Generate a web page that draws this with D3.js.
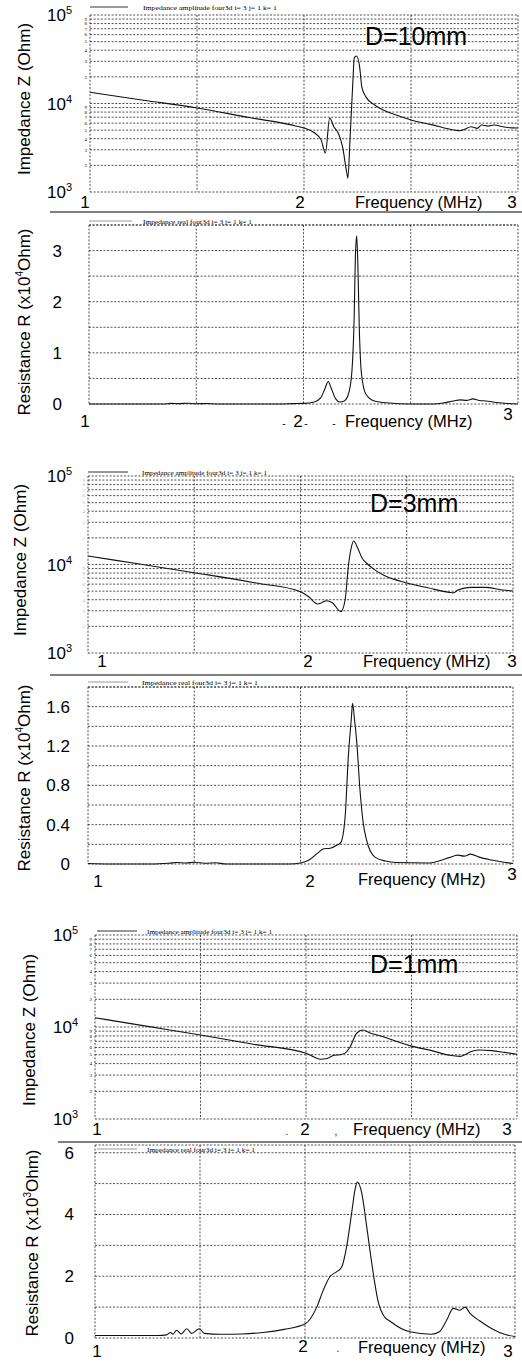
<!DOCTYPE html>
<html><head><meta charset="utf-8">
<script src="https://cdn.jsdelivr.net/npm/d3@7"></script>
<style>
body{margin:0;background:#fff}
svg{display:block}
text{font-family:"Liberation Sans",Arial,sans-serif;fill:#000}
.leg{font-family:"Liberation Serif","Times New Roman",serif}
</style>
</head><body>
<svg id="c" width="522" height="1362"></svg>
<script>
// ---------------- DATA ----------------
const xTickValues = [1, 2, 3];
const xGridValues = [1, 1.5, 2, 2.5, 3];
const logMajorTicks = [1e3, 1e4, 1e5];
const logExponents = [3, 4, 5];
const minorDigits = [2, 3, 4, 5, 6, 7, 8, 9];

// D = 10 mm : impedance amplitude (Ohm)
const z10Freq = [1.0,1.25,1.5,1.75,1.94,2.0,2.05,2.08,2.1,2.12,2.14,2.16,2.18,2.2,2.205,2.215,2.228,2.235,2.245,2.26,2.27,2.29,2.33,2.37,2.43,2.5,2.6,2.7,2.73,2.75,2.78,2.81,2.83,2.86,2.89,2.93,2.97,3.0];
const z10Val  = [13400,10900,8900,6900,5730,5280,4640,3880,2760,6850,5440,4640,3250,1640,1436,3900,17000,32800,34400,25900,15400,11800,9630,8450,7430,6500,5730,5020,4930,5110,5470,5240,5720,5570,5720,5470,5300,5280];
// D = 10 mm : resistance (x10^4 Ohm)
const r10Freq = [1.0,1.35,1.38,1.42,1.46,1.5,1.55,1.6,1.9,1.95,2.0,2.05,2.08,2.1,2.115,2.13,2.15,2.17,2.19,2.21,2.225,2.235,2.243,2.248,2.253,2.26,2.27,2.29,2.33,2.4,2.5,2.6,2.65,2.7,2.73,2.76,2.79,2.82,2.85,2.9,2.95,3.0];
const r10Val  = [0,0,0.012,0.008,0.015,0.005,0.01,0,0,0.008,0.012,0.04,0.12,0.3,0.44,0.3,0.1,0.04,0.06,0.2,0.6,1.5,3.0,3.29,2.8,1.5,0.6,0.2,0.06,0.02,0,0,0.02,0.06,0.08,0.07,0.1,0.07,0.06,0.03,0.01,0];
const r10Ticks = [0, 1, 2, 3];

// D = 3 mm
const z3Freq = [1.0,1.25,1.5,1.8,2.0,2.04,2.08,2.1,2.12,2.15,2.19,2.21,2.225,2.24,2.25,2.27,2.29,2.31,2.35,2.39,2.5,2.6,2.7,2.72,2.74,2.8,2.87,2.95,3.0];
const z3Val  = [12500,10050,8080,6130,4930,4300,3580,3700,3900,3700,2930,3990,9450,15900,18400,15200,11750,10400,8700,7610,6180,5450,4840,4780,5150,5520,5520,5150,5020];
const r3Freq = [1.0,1.1,1.3,1.38,1.42,1.46,1.5,1.55,1.6,1.65,1.95,2.0,2.04,2.08,2.11,2.14,2.17,2.19,2.21,2.225,2.24,2.245,2.255,2.264,2.28,2.295,2.31,2.35,2.4,2.45,2.6,2.65,2.7,2.74,2.77,2.8,2.84,2.9,2.95,3.0];
const r3Val  = [0.005,0,0,0.008,0.015,0.01,0.018,0.008,0.012,0,0,0.01,0.04,0.11,0.155,0.16,0.19,0.22,0.48,1.09,1.5,1.635,1.45,1.26,0.75,0.42,0.25,0.07,0.03,0.015,0.01,0.03,0.065,0.09,0.08,0.1,0.07,0.04,0.02,0.005];
const r3Ticks = [0, 0.4, 0.8, 1.2, 1.6];

// D = 1 mm
const z1Freq = [1.0,1.25,1.5,1.75,2.0,2.04,2.07,2.1,2.13,2.16,2.185,2.21,2.24,2.27,2.30,2.366,2.43,2.5,2.6,2.68,2.73,2.76,2.78,2.82,2.88,2.94,3.0];
const z1Val  = [12600,10150,8190,6500,5180,4700,4460,4550,4900,5000,5200,6150,8550,9270,8680,7850,6950,6200,5500,4930,4800,5100,5390,5620,5530,5300,5050];
const r1Freq = [1.0,1.3,1.34,1.36,1.37,1.389,1.41,1.437,1.46,1.497,1.52,1.6,1.7,1.8,1.9,2.0,2.056,2.087,2.12,2.15,2.175,2.198,2.222,2.238,2.249,2.27,2.294,2.318,2.35,2.373,2.41,2.5,2.6,2.64,2.675,2.706,2.738,2.762,2.786,2.833,2.89,2.95,3.0];
const r1Val  = [0.08,0.08,0.1,0.18,0.12,0.25,0.13,0.3,0.15,0.3,0.15,0.12,0.13,0.18,0.28,0.45,1.0,1.55,2.0,2.14,2.3,2.95,4.04,4.8,5.05,4.7,3.6,2.42,1.13,0.74,0.52,0.2,0.12,0.2,0.58,0.96,0.9,1.0,0.8,0.55,0.3,0.12,0.05];
const r1Ticks = [0, 2, 4, 6];

const zLegend = "Impedance amplitude four3d i= 3 j= 1 k= 1";
const rLegend = "Impedance real four3d i= 3 j= 1 k= 1";

// ---------------- LAYOUT ----------------
const svg = d3.select("#c");
const panels = [
  {type:"log", L:90, R:518, T:15, B:192, freq:z10Freq, val:z10Val, legend:zLegend, legY:7, legX:[90,128], legTx:143, legW:134, legCol:"#333",
   title:"D=10mm", titleX:365, titleY:45, ylab:"Impedance Z (Ohm)", ylabX:30, ylabY:99, yTickX:72, minorOp:1,
   xl:[{t:"1",x:85,y:208},{t:"2",x:300,y:208},{t:"3",x:512,y:208}], freqX:355, freqY:208, marks:[]},
  {type:"lin", L:89, R:518, T:225, B:404, ymax:3.5, gstep:0.5, ticks:r10Ticks, fmt:d3.format("d"), freq:r10Freq, val:r10Val, legend:rLegend, legY:221, legX:[89,132], legTx:143, legW:109, legCol:"#999",
   ylab:"Resistance R (x10", sup:"4", ylab2:"Ohm)", ylabX:30, ylabY:322, yTickX:62,
   xl:[{t:"1",x:85,y:427},{t:"2",x:298,y:427},{t:"3",x:508,y:420}], freqX:345, freqY:427, marks:[{t:"-",x:284,y:427},{t:"-",x:306,y:427},{t:"-",x:334,y:427}]},
  {type:"log", L:88, R:513, T:476, B:653, freq:z3Freq, val:z3Val, legend:zLegend, legY:472, legX:[88,128], legTx:142, legW:125, legCol:"#333",
   title:"D=3mm", titleX:370, titleY:512, ylab:"Impedance Z (Ohm)", ylabX:26, ylabY:560, yTickX:72, minorOp:0.35,
   xl:[{t:"1",x:102,y:667},{t:"2",x:308,y:667},{t:"3",x:512,y:667}], freqX:363, freqY:667, marks:[]},
  {type:"lin", L:88, R:513, T:687, B:864, ymax:1.8, gstep:0.2, ticks:r3Ticks, fmt:d3.format(".1f"), freq:r3Freq, val:r3Val, legend:rLegend, legY:682, legX:[88,128], legTx:142, legW:116, legCol:"#999",
   ylab:"Resistance R (x10", sup:"4", ylab2:"Ohm)", ylabX:30, ylabY:778, yTickX:70,
   xl:[{t:"1",x:98,y:887},{t:"2",x:310,y:887},{t:"3",x:512,y:880}], freqX:358, freqY:885, marks:[]},
  {type:"log", L:95, R:517, T:935, B:1119, freq:z1Freq, val:z1Val, legend:zLegend, legY:931, legX:[97,137], legTx:147, legW:125, legCol:"#333",
   title:"D=1mm", titleX:370, titleY:973, ylab:"Impedance Z (Ohm)", ylabX:35, ylabY:1030, yTickX:78, minorOp:1,
   xl:[{t:"1",x:97,y:1135},{t:"2",x:305,y:1135},{t:"3",x:507,y:1135}], freqX:353, freqY:1135, marks:[{t:".",x:287,y:1135},{t:",",x:336,y:1135}]},
  {type:"lin", L:95, R:515, T:1145, B:1338, ymax:6.25, gstep:1, ticks:r1Ticks, fmt:d3.format("d"), freq:r1Freq, val:r1Val, legend:rLegend, legY:1149, legX:[97,137], legTx:147, legW:108, legCol:"#999",
   ylab:"Resistance R (x10", sup:"3", ylab2:"Ohm)", ylabX:38, ylabY:1243, yTickX:74,
   xl:[{t:"1",x:97,y:1357},{t:"2",x:303,y:1352},{t:"3",x:508,y:1357}], freqX:358, freqY:1353, marks:[{t:".",x:338,y:1352}]}
];
const separators = [{y:212, x0:50}, {y:675, x0:50}, {y:1142, x0:58}];

separators.forEach(s => svg.append("line").attr("x1", s.x0).attr("x2", 522).attr("y1", s.y).attr("y2", s.y)
  .attr("stroke", "#000").attr("stroke-width", 1));

panels.forEach(p => {
  const g = svg.append("g");
  const x = d3.scaleLinear().domain([1, 3]).range([p.L, p.R]);
  let y, hGrid;
  if (p.type === "log") {
    y = d3.scaleLog().domain([1e3, 1e5]).range([p.B, p.T]);
    hGrid = [];
    [1e3, 1e4].forEach(d => [1].concat(minorDigits).forEach(m => hGrid.push(d * m)));
    hGrid.push(1e5);
  } else {
    y = d3.scaleLinear().domain([0, p.ymax]).range([p.B, p.T]);
    hGrid = d3.range(0, p.ymax + 1e-9, p.gstep).concat([p.ymax]);
  }
  // grid
  g.selectAll(".hg").data(hGrid).join("line")
    .attr("x1", p.L).attr("x2", p.R).attr("y1", d => y(d)).attr("y2", d => y(d))
    .attr("stroke", "#222").attr("stroke-width", 0.8).attr("stroke-dasharray", "2,1.6");
  g.selectAll(".vg").data(xGridValues).join("line")
    .attr("x1", d => x(d)).attr("x2", d => x(d)).attr("y1", p.T).attr("y2", p.B)
    .attr("stroke", "#222").attr("stroke-width", 0.8).attr("stroke-dasharray", "2,1.6");

  // y ticks
  if (p.type === "log") {
    logMajorTicks.forEach((v, i) => {
      const t = g.append("text").attr("x", p.yTickX).attr("y", y(v) + 6).attr("text-anchor", "end").attr("font-size", 17);
      t.append("tspan").text("10");
      t.append("tspan").attr("dy", -7).attr("font-size", 11).text(logExponents[i]);
    });
    [1e3, 1e4].forEach(d => minorDigits.forEach(m => {
      g.append("text").attr("class", "leg").attr("x", p.L - 3).attr("y", y(d * m) + 1.8)
        .attr("text-anchor", "end").attr("font-size", 5).attr("opacity", p.minorOp).text(m);
    }));
  } else {
    p.ticks.forEach(v => {
      g.append("text").attr("x", p.yTickX).attr("y", y(v) + 6).attr("text-anchor", "end").attr("font-size", 17)
        .text(v === 0 ? "0" : p.fmt(v));
    });
  }

  // curve
  const pts = p.freq.map((f, i) => [f, p.val[i]]);
  g.append("path").datum(pts)
    .attr("d", d3.line().x(d => x(d[0])).y(d => y(d[1])).curve(d3.curveMonotoneX))
    .attr("fill", "none").attr("stroke", "#111").attr("stroke-width", 1.1);

  // legend
  g.append("line").attr("x1", p.legX[0]).attr("x2", p.legX[1]).attr("y1", p.legY).attr("y2", p.legY)
    .attr("stroke", p.legCol).attr("stroke-width", 1);
  g.append("text").attr("class", "leg").attr("x", p.legTx).attr("y", p.legY + 2.5).attr("font-size", 7)
    .attr("textLength", p.legW).attr("lengthAdjust", "spacingAndGlyphs").text(p.legend);

  // title
  if (p.title) g.append("text").attr("x", p.titleX).attr("y", p.titleY).attr("font-size", 25).text(p.title);

  // y label
  const yl = g.append("text").attr("transform", `translate(${p.ylabX},${p.ylabY}) rotate(-90)`)
    .attr("text-anchor", "middle").attr("font-size", 17);
  yl.append("tspan").text(p.ylab);
  if (p.sup) {
    yl.append("tspan").attr("dy", -7).attr("font-size", 10).text(p.sup);
    yl.append("tspan").attr("dy", 7).text(p.ylab2);
  }

  // x tick labels
  p.xl.forEach(l => g.append("text").attr("x", l.x).attr("y", l.y).attr("text-anchor", "middle").attr("font-size", 17).text(l.t));
  g.append("text").attr("x", p.freqX).attr("y", p.freqY).attr("font-size", 16.5).text("Frequency (MHz)");
  p.marks.forEach(m => g.append("text").attr("x", m.x).attr("y", m.y).attr("text-anchor", "middle").attr("font-size", 10).text(m.t));
});
</script>
</body></html>
